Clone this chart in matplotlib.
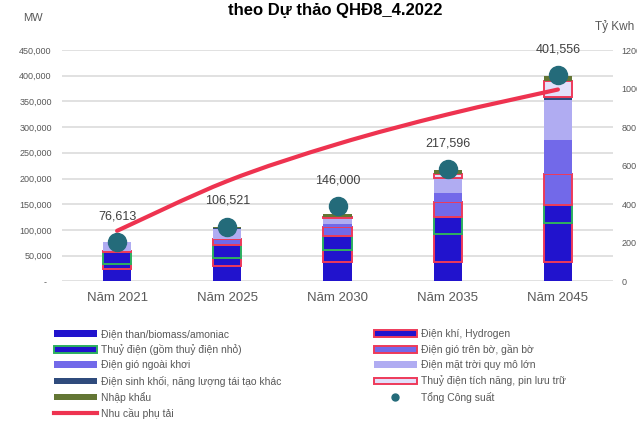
import matplotlib
matplotlib.use('Agg')
import matplotlib.pyplot as plt
import numpy as np
from matplotlib.patches import Patch, PathPatch
from matplotlib.lines import Line2D
from matplotlib.path import Path

plt.rcParams['font.family'] = ['Liberation Sans', 'DejaVu Sans']

# data (MW)
categories = ['Năm 2021', 'Năm 2025', 'Năm 2030', 'Năm 2035', 'Năm 2045']
coal = [24700, 29200, 37000, 37000, 38100]
gas = [9000, 15600, 24000, 55100, 74700]
hydro = [22500, 25900, 27200, 33700, 35600]
wind_onshore = [3500, 11700, 16900, 28000, 59700]
wind_offshore = [0, 0, 6400, 18700, 66700]
solar = [16000, 20300, 11000, 26100, 77800]
biomass = [400, 1000, 1000, 2900, 5800]
pumped = [0, 0, 2400, 7200, 31100]
imports = [500, 2000, 5000, 7800, 10300]
totals = [76613, 106521, 146000, 217596, 401556]
demand = [262, 520, 712, 866, 995]  # Tỷ Kwh

names = ['Điện than/biomass/amoniac', 'Điện khí, Hydrogen', 'Thuỷ điện (gồm thuỷ điện nhỏ)',
         'Điện gió trên bờ, gần bờ', 'Điện gió ngoài khơi', 'Điện mặt trời quy mô lớn',
         'Điện sinh khối, năng lượng tái tạo khác', 'Thuỷ điện tích năng, pin lưu trữ',
         'Nhập khẩu', 'Tổng Công suất', 'Nhu cầu phụ tải']

BLUE = '#2113CD'
RED = '#EE3A5A'
GREEN = '#2DB060'
PURPLE = '#7269E9'
LAV = '#B0ACF2'
PALE = '#E2E0FA'
NAVY = '#2F4B7C'
OLIVE = '#637634'
TEAL = '#246B7A'
LINE = '#EE3350'
GRAY = '#595959'

series = [
    (coal, BLUE, None),
    (gas, BLUE, RED),
    (hydro, BLUE, GREEN),
    (wind_onshore, PURPLE, RED),
    (wind_offshore, PURPLE, None),
    (solar, LAV, None),
    (biomass, NAVY, None),
    (pumped, PALE, RED),
    (imports, OLIVE, None),
]

fig = plt.figure(figsize=(6.37, 4.21), dpi=100)
ax = fig.add_axes([62/637, 1-281.3/421, 551/637, 231.3/421])

x = np.arange(len(categories))
bottom = np.zeros(len(categories))
handles = []
for vals, fc, ec in series:
    vals = np.array(vals, dtype=float)
    lw = [1.4 if (ec and v > 0) else 0 for v in vals]
    ax.bar(x, vals, 0.255, bottom=bottom, color=fc, edgecolor=ec if ec else fc,
           linewidth=lw, zorder=2)
    bottom += vals
    handles.append(Patch(facecolor=fc, edgecolor=ec if ec else fc, linewidth=1.4 if ec else 0))

ax.set_xlim(-0.5, 4.5)
ax.set_ylim(0, 450000)
ax.set_xticks(x)
ax.set_xticklabels(categories)
ax.set_yticks(np.arange(0, 450001, 50000))
ax.set_yticklabels(['-  ' if v == 0 else f'{v:,}' for v in range(0, 450001, 50000)])
ax.tick_params(axis='y', length=0, pad=7.4, labelsize=6.5, labelcolor=GRAY)
ax.tick_params(axis='x', length=0, pad=8, labelsize=9.5, labelcolor=GRAY)
ax.yaxis.grid(True, color='#D9D9D9', lw=1.1)
ax.set_axisbelow(True)
for s in ax.spines.values():
    s.set_visible(False)

ax2 = ax.twinx()
for s in ax2.spines.values():
    s.set_visible(False)

# smoothed demand line (bezier through the data points, like Excel)
pts = np.column_stack([x, demand]).astype(float)
verts = [pts[0]]
codes = [Path.MOVETO]
for i in range(len(pts) - 1):
    p0 = pts[max(i - 1, 0)]
    p1 = pts[i]
    p2 = pts[i + 1]
    p3 = pts[min(i + 2, len(pts) - 1)]
    verts += [p1 + (p2 - p0) / 6, p2 - (p3 - p1) / 6, p2]
    codes += [Path.CURVE4] * 3
ax2.add_patch(PathPatch(Path(verts, codes), fill=False, edgecolor=LINE, lw=3,
                        capstyle='round', zorder=3))

ax2.plot(x, totals, 'o', ms=13, color=TEAL, ls='none', transform=ax.transData, zorder=4)
for xi, t in zip(x, totals):
    ax2.annotate(f'{t:,}', (xi, t), xycoords=ax.transData, xytext=(0, 18.5),
                 textcoords='offset points', ha='center', va='center',
                 fontsize=9, color='#404040')

ax2.set_ylim(0, 1200)
ax2.set_yticks(np.arange(0, 1201, 200))
ax2.tick_params(axis='y', length=0, pad=6.3, labelsize=6.5, labelcolor=GRAY)

handles.append(Line2D([], [], marker='o', ls='none', ms=5, color=TEAL))
handles.append(Line2D([], [], color=LINE, lw=3))

left_idx = [0, 2, 4, 6, 8, 10]
right_idx = [1, 3, 5, 7, 9]
leg_kw = dict(fontsize=7.5, handlelength=4.1, handleheight=0.6, handletextpad=0.4,
              labelspacing=0.5, frameon=False, borderpad=0, borderaxespad=0,
              labelcolor=GRAY, loc='upper left')
fig.legend([handles[i] for i in left_idx], [names[i] for i in left_idx],
           bbox_to_anchor=(54/637, 1-329/421), **leg_kw)
fig.legend([handles[i] for i in right_idx], [names[i] for i in right_idx],
           bbox_to_anchor=(374/637, 1-329/421), **leg_kw)

fig.text(33/637, 1-18/421, 'MW', ha='center', va='center', fontsize=8, color=GRAY)
fig.text(595/637, 1-27/421, 'Tỷ Kwh', ha='left', va='center', fontsize=8.5, color=GRAY)
fig.text(335/637, 1-10/421, 'theo Dự thảo QHĐ8_4.2022', ha='center', va='center',
         fontsize=12, fontweight='bold', color='black')

fig.savefig('out.png', dpi=100)
